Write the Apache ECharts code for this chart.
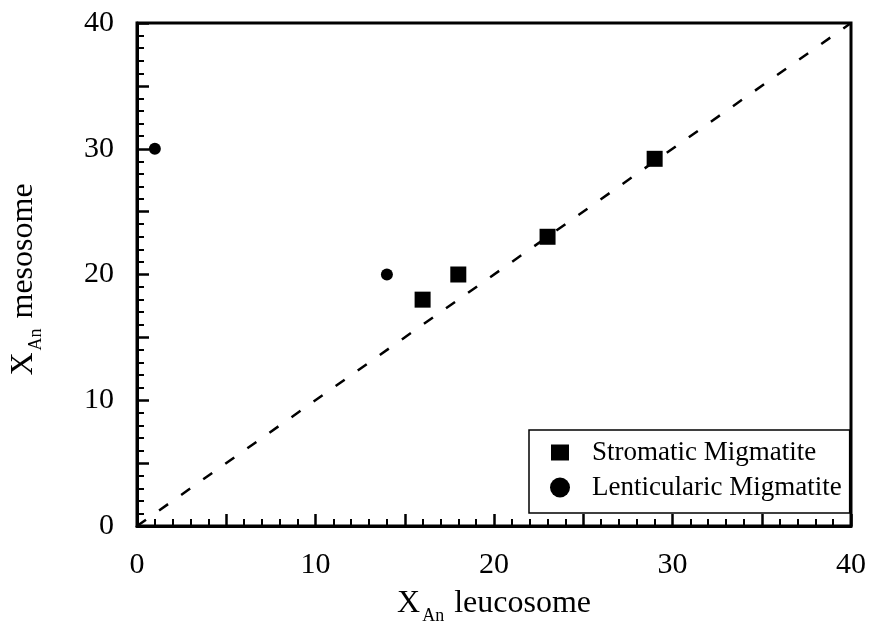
<!DOCTYPE html>
<html>
<head>
<meta charset="utf-8">
<script src="https://cdn.jsdelivr.net/npm/echarts@6/dist/echarts.min.js"></script>
<style>
html,body{margin:0;padding:0;background:#fff;}
#chart{width:871px;height:624px;}
</style>
</head>
<body>
<div id="chart"></div>
<script>
// Data
var stromaticX = [16, 18, 23, 29];
var stromaticY = [18, 20, 23, 29.2];
var lenticularX = [1, 14];
var lenticularY = [30, 20];
var equalityLineX = [0, 40];
var equalityLineY = [0, 40];
var xTickLabels = [0, 10, 20, 30, 40];
var yTickLabels = [0, 10, 20, 30, 40];
var seriesNames = ['Stromatic Migmatite', 'Lenticularic Migmatite'];

function zip(a, b) { return a.map(function (v, i) { return [v, b[i]]; }); }

var FONT = 'Liberation Serif';
var chart = echarts.init(document.getElementById('chart'), null, { renderer: 'canvas' });

function axisCommon(labels, margin) {
  return {
    type: 'value',
    min: 0,
    max: 40,
    interval: 5,
    axisLine: { show: true, onZero: false, lineStyle: { color: '#000', width: 3 } },
    axisTick: { show: true, inside: true, length: 12, lineStyle: { color: '#000', width: 2.5 } },
    minorTick: { show: true, splitNumber: 5, length: 7, lineStyle: { color: '#000', width: 2 } },
    splitLine: { show: false },
    minorSplitLine: { show: false },
    axisLabel: {
      fontFamily: FONT, fontSize: 30, color: '#000', margin: margin,
      formatter: function (v) { return labels.indexOf(v) >= 0 ? String(v) : ''; }
    },
    nameLocation: 'middle'
  };
}

var richName = {
  a: { fontFamily: FONT, fontSize: 32, color: '#000', lineHeight: 36 },
  b: { fontFamily: FONT, fontSize: 18, color: '#000', padding: [24, 2, 0, 2] }
};

var xAxis = axisCommon(xTickLabels, 24);
xAxis.name = '{a|X}{b|An}{a| leucosome}';
xAxis.nameGap = 57;
xAxis.nameTextStyle = { rich: richName };

var yAxis = axisCommon(yTickLabels, 23);
yAxis.name = '{a|X}{b|An}{a| mesosome}';
yAxis.nameGap = 92;
yAxis.nameTextStyle = { rich: richName, padding: [0, 10, 0, 0] };

var squareIcon = 'path://M0,0h0.01v0.01h-0.01zM20,20h0.01v0.01h-0.01zM1,2h18v16h-18z';

chart.setOption({
  animation: false,
  backgroundColor: '#fff',
  grid: { left: 137, right: 20, top: 23, bottom: 98, show: true, borderColor: '#000', borderWidth: 3, backgroundColor: 'transparent', containLabel: false, outerBoundsMode: 'none' },
  xAxis: xAxis,
  yAxis: yAxis,
  legend: {
    orient: 'vertical',
    left: 529,
    top: 430,
    padding: [9, 8, 12, 21],
    itemGap: 8,
    itemWidth: 20,
    itemHeight: 20,
    borderColor: '#000',
    borderWidth: 1.5,
    backgroundColor: '#fff',
    textStyle: { fontFamily: FONT, fontSize: 27, color: '#000', lineHeight: 27, padding: [0, 0, 0, 17] },
    itemStyle: { opacity: 1 },
    data: [
      { name: seriesNames[0], icon: squareIcon },
      { name: seriesNames[1], icon: 'circle' }
    ]
  },
  series: [
    {
      type: 'line',
      data: zip(equalityLineX, equalityLineY),
      showSymbol: false,
      silent: true,
      lineStyle: { color: '#000', width: 2.5, type: [11, 16] },
      z: 1
    },
    {
      name: seriesNames[0],
      type: 'scatter',
      symbol: 'rect',
      symbolSize: 16,
      itemStyle: { color: '#000', opacity: 1 },
      data: zip(stromaticX, stromaticY),
      z: 3
    },
    {
      name: seriesNames[1],
      type: 'scatter',
      symbol: 'circle',
      symbolSize: 12,
      itemStyle: { color: '#000', opacity: 1 },
      data: zip(lenticularX, lenticularY),
      z: 3
    }
  ]
});
</script>
</body>
</html>
